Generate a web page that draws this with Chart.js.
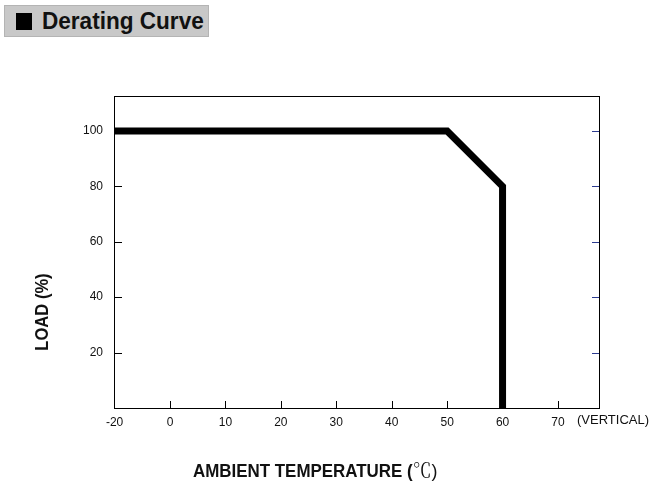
<!DOCTYPE html>
<html>
<head>
<meta charset="utf-8">
<script src="https://cdn.jsdelivr.net/npm/chart.js@4/dist/chart.umd.min.js"></script>
<style>
  html, body { margin:0; padding:0; background:#fff; width:665px; height:502px; overflow:hidden; }
  #wrap { position:absolute; left:0; top:0; width:665px; height:502px; }
  #title {
    position:absolute; left:4px; top:5px; width:203px; height:30px;
    background:#c8c8c8; border:1px solid #b4b4b4;
    font-family:"Liberation Sans",Arial,sans-serif;
    font-weight:bold; font-size:24px; line-height:30px; color:#111;
    white-space:nowrap;
  }
  #title .sq { position:absolute; left:11px; top:7px; width:16px; height:17px; background:#000; }
  #title .tx { position:absolute; left:37px; top:0; transform:scaleX(0.94); transform-origin:0 50%; }
</style>
</head>
<body>
<div id="wrap">
  <canvas id="c" width="665" height="502"></canvas>
</div>
<div id="title"><span class="sq"></span><span class="tx">Derating Curve</span></div>
<script>
// Data
const temps = [-20, 50, 60, 60];
const loads = [100, 100, 80, 0];
const xTicks = [-20, 0, 10, 20, 30, 40, 50, 60, 70];
const yTicks = [20, 40, 60, 80, 100];
const xTitle = "AMBIENT TEMPERATURE (";
const xUnit = "℃";
const yTitle = "LOAD (%)";
const xExtra = "(VERTICAL)";

const FONT = '"Liberation Sans",Arial,sans-serif';

// Axis whose segment below 0 is drawn at half scale (the -20..0 span takes one 10-degree step)
class BrokenLinearScale extends Chart.LinearScale {
  static id = 'brokenLinear';
  static defaults = Chart.LinearScale.defaults;
  getPixelForValue(value) {
    const v = value < 0 ? value / 2 : value;
    return super.getPixelForValue(v);
  }
  getValueForPixel(pixel) {
    const v = super.getValueForPixel(pixel);
    return v < 0 ? v * 2 : v;
  }
}
Chart.register(BrokenLinearScale);

const decor = {
  id: 'decor',
  afterDraw(chart) {
    const ctx = chart.ctx;
    const a = chart.chartArea;
    const xs = chart.scales.x, ys = chart.scales.y;
    ctx.save();
    ctx.strokeStyle = '#000';
    ctx.lineWidth = 1;
    ctx.strokeRect(Math.round(a.left) + 0.5, Math.round(a.top) + 0.5, Math.round(a.right - a.left), Math.round(a.bottom - a.top));
    ctx.beginPath();
    xTicks.forEach(v => {
      if (v === -20) return;
      const px = Math.round(xs.getPixelForValue(v)) + 0.5;
      ctx.moveTo(px, a.bottom);
      ctx.lineTo(px, a.bottom - 7);
    });
    yTicks.forEach(v => {
      const py = Math.round(ys.getPixelForValue(v)) + 0.5;
      ctx.moveTo(a.left, py);
      ctx.lineTo(a.left + 8, py);
    });
    ctx.stroke();
    ctx.strokeStyle = '#2b3a8f';
    ctx.beginPath();
    yTicks.forEach(v => {
      const py = Math.round(ys.getPixelForValue(v)) + 0.5;
      ctx.moveTo(a.right, py);
      ctx.lineTo(a.right - 7, py);
    });
    ctx.stroke();
    // (VERTICAL)
    ctx.fillStyle = '#111';
    ctx.font = '13px ' + FONT;
    ctx.textBaseline = 'top';
    ctx.textAlign = 'left';
    ctx.fillText(xExtra, 577, 414);
    // x title
    ctx.save();
    ctx.translate(193, 477);
    ctx.scale(0.94, 1);
    ctx.textBaseline = 'alphabetic';
    ctx.font = 'bold 18px ' + FONT;
    ctx.fillText(xTitle, 0, 0);
    let w = ctx.measureText(xTitle).width;
    ctx.font = '20px "Noto Serif CJK SC","Noto Sans CJK SC","DejaVu Serif",serif';
    ctx.fillText(xUnit, w, 1);
    let w2 = ctx.measureText(xUnit).width;
    ctx.font = '19px ' + FONT;
    ctx.fillText(')', w + w2, 0);
    ctx.restore();
    // y title
    ctx.translate(48, 312);
    ctx.rotate(-Math.PI / 2);
    ctx.scale(0.92, 1);
    ctx.font = 'bold 18px ' + FONT;
    ctx.textAlign = 'center';
    ctx.textBaseline = 'alphabetic';
    ctx.fillText(yTitle, 0, 0);
    ctx.restore();
  }
};

new Chart(document.getElementById('c'), {
  type: 'line',
  data: {
    datasets: [{
      data: temps.map((t, i) => ({ x: t, y: loads[i] })),
      borderColor: '#000',
      borderWidth: 7,
      pointRadius: 0,
      fill: false,
      tension: 0,
      borderJoinStyle: 'miter',
      borderCapStyle: 'butt'
    }]
  },
  options: {
    responsive: false,
    animation: false,
    events: [],
    layout: { padding: { left: 0, top: 96, right: 66, bottom: 0 } },
    plugins: { legend: { display: false }, tooltip: { enabled: false } },
    scales: {
      x: {
        type: 'brokenLinear', min: -10.1, max: 77.4,
        afterBuildTicks: s => { s.ticks = xTicks.map(v => ({ value: v })); },
        afterFit: s => { s.height = 94; },
        grid: { display: false, drawTicks: false },
        border: { display: false },
        ticks: { padding: 7, color: '#111', font: { family: FONT, size: 12 }, maxRotation: 0, autoSkip: false }
      },
      y: {
        type: 'linear', min: 0, max: 112.6,
        afterBuildTicks: s => { s.ticks = yTicks.map(v => ({ value: v })); },
        afterFit: s => { s.width = 114; },
        grid: { display: false, drawTicks: false },
        border: { display: false },
        ticks: { padding: 11, color: '#111', font: { family: FONT, size: 12 } }
      }
    }
  },
  plugins: [decor]
});
</script>
</body>
</html>
